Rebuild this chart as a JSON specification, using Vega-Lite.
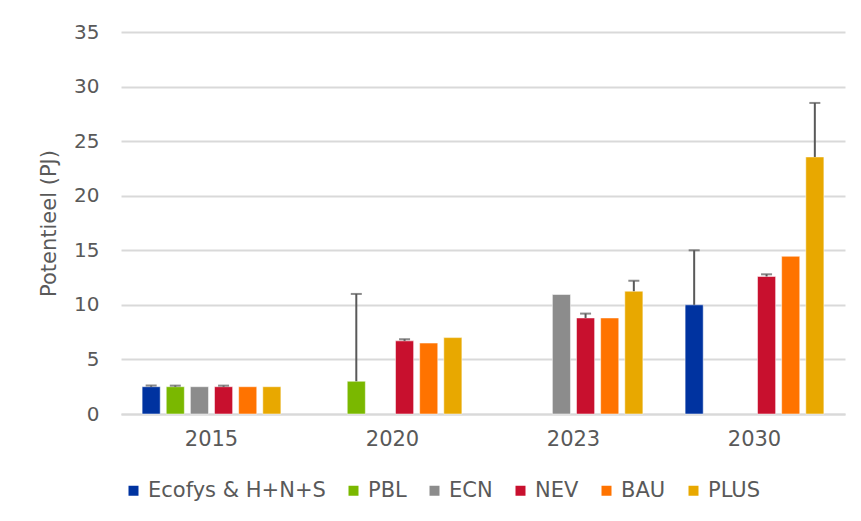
{
  "$schema": "https://vega.github.io/schema/vega-lite/v6.json",
  "autosize": "none",
  "width": 724,
  "height": 382,
  "padding": {"left": 121, "top": 32, "right": 16, "bottom": 107},
  "background": "white",
  "config": {
    "font": "DejaVu Sans",
    "view": {"stroke": null}
  },
  "data": {
    "values": [
      {"year": "2015", "series": "Ecofys & H+N+S", "value": 2.5, "upper": 2.6},
      {"year": "2015", "series": "PBL", "value": 2.5, "upper": 2.6},
      {"year": "2015", "series": "ECN", "value": 2.5, "upper": null},
      {"year": "2015", "series": "NEV", "value": 2.5, "upper": 2.6},
      {"year": "2015", "series": "BAU", "value": 2.5, "upper": null},
      {"year": "2015", "series": "PLUS", "value": 2.5, "upper": null},
      {"year": "2020", "series": "PBL", "value": 3.0, "upper": 11.0},
      {"year": "2020", "series": "NEV", "value": 6.7, "upper": 6.85},
      {"year": "2020", "series": "BAU", "value": 6.5, "upper": null},
      {"year": "2020", "series": "PLUS", "value": 7.0, "upper": null},
      {"year": "2023", "series": "ECN", "value": 10.95, "upper": null},
      {"year": "2023", "series": "NEV", "value": 8.8, "upper": 9.2},
      {"year": "2023", "series": "BAU", "value": 8.8, "upper": null},
      {"year": "2023", "series": "PLUS", "value": 11.25, "upper": 12.2},
      {"year": "2030", "series": "Ecofys & H+N+S", "value": 10.0, "upper": 15.0},
      {"year": "2030", "series": "NEV", "value": 12.6, "upper": 12.8},
      {"year": "2030", "series": "BAU", "value": 14.45, "upper": null},
      {"year": "2030", "series": "PLUS", "value": 23.55, "upper": 28.5}
    ]
  },
  "encoding": {
    "x": {
      "field": "year",
      "type": "nominal",
      "scale": {"paddingInner": 0.2, "paddingOuter": 0.1},
      "axis": {
        "title": null,
        "labelAngle": 0,
        "labelFontSize": 21,
        "labelColor": "#595959",
        "labelPadding": 14,
        "ticks": false,
        "domainColor": "#d9d9d9",
        "domainWidth": 2
      }
    },
    "xOffset": {
      "field": "series",
      "type": "nominal",
      "scale": {
        "domain": ["Ecofys & H+N+S", "PBL", "ECN", "NEV", "BAU", "PLUS"],
        "paddingInner": 0.25,
        "paddingOuter": 0.125
      }
    }
  },
  "layer": [
    {
      "mark": {"type": "bar", "stroke": "white", "strokeOpacity": 0.5, "strokeWidth": 1},
      "encoding": {
        "y": {
          "field": "value",
          "type": "quantitative",
          "scale": {"domain": [0, 35]},
          "axis": {
            "title": "Potentieel (PJ)",
            "titleFontSize": 21,
            "titleFontWeight": "normal",
            "titleColor": "#595959",
            "titlePadding": 14,
            "values": [0, 5, 10, 15, 20, 25, 30, 35],
            "labelFontSize": 20,
            "labelColor": "#595959",
            "labelPadding": 22,
            "ticks": false,
            "domain": false,
            "gridColor": "#d9d9d9",
            "gridWidth": 2
          }
        },
        "color": {
          "field": "series",
          "type": "nominal",
          "scale": {
            "domain": ["Ecofys & H+N+S", "PBL", "ECN", "NEV", "BAU", "PLUS"],
            "range": ["#0033a0", "#7ab800", "#8c8c8c", "#c8102e", "#ff7300", "#e8a800"]
          },
          "legend": {
            "title": null,
            "orient": "none",
            "direction": "horizontal",
            "legendX": 2,
            "legendY": 448,
            "symbolType": "square",
            "symbolSize": 100,
            "symbolStrokeWidth": 0,
            "labelFontSize": 21,
            "labelLimit": 0,
            "labelColor": "#595959",
            "labelOffset": 4,
            "columnPadding": 17
          }
        }
      }
    },
    {
      "transform": [{"filter": "datum.upper != null"}],
      "mark": {"type": "rule", "color": "#595959", "strokeWidth": 2},
      "encoding": {
        "y": {"field": "value", "type": "quantitative"},
        "y2": {"field": "upper"}
      }
    },
    {
      "transform": [{"filter": "datum.upper != null"}],
      "mark": {"type": "tick", "orient": "horizontal", "color": "#595959", "size": 11, "thickness": 2},
      "encoding": {
        "y": {"field": "upper", "type": "quantitative"}
      }
    }
  ]
}
